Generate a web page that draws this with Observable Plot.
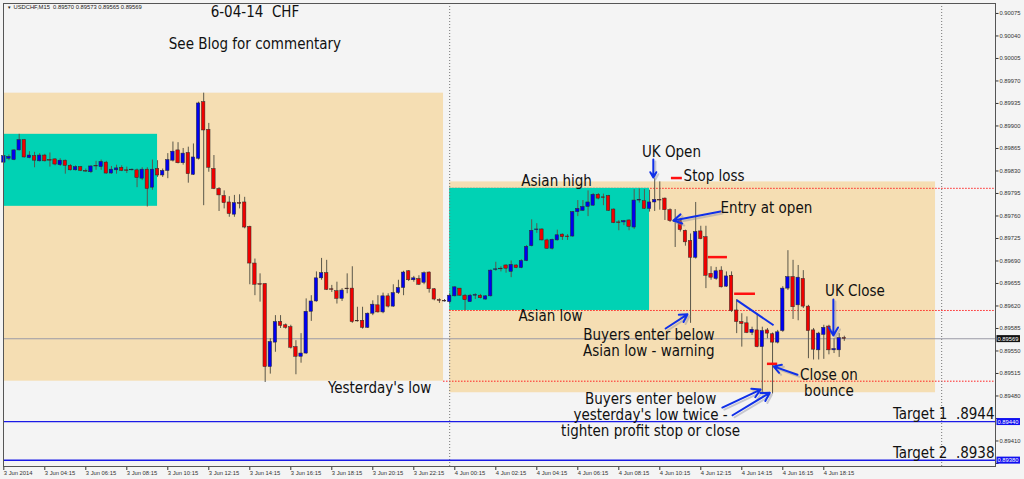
<!DOCTYPE html>
<html><head><meta charset="utf-8">
<script src="https://cdn.jsdelivr.net/npm/d3@7"></script>
<script src="https://cdn.jsdelivr.net/npm/@observablehq/plot@0.6"></script>
<style>
html,body{margin:0;padding:0;background:#f4f4f4;}
svg text{white-space:pre;}
</style></head><body><div id="chart"></div>
<script>
// ---------- data ----------
const symbol = "USDCHF,M15";
const firstBar = "2014-06-03T02:15:00Z";   // time of the first visible M15 candle
const barMinutes = 15;

const open = [
0.89843,0.89849,0.89847,0.89862,0.89878,0.89850,0.89853,0.89845,0.89854,0.89847,
0.89848,0.89839,0.89846,0.89838,0.89831,0.89836,0.89830,0.89828,0.89838,0.89836,
0.89843,0.89826,0.89831,0.89835,0.89831,0.89831,0.89831,0.89818,0.89832,0.89804,
0.89833,0.89823,0.89830,0.89846,0.89862,0.89842,0.89858,0.89824,0.89849,0.89937,
0.89894,0.89833,0.89802,0.89791,0.89781,0.89762,0.89780,0.89781,0.89743,0.89686,
0.89654,0.89654,0.89525,0.89563,0.89595,0.89590,0.89587,0.89556,0.89541,0.89546,
0.89611,0.89627,0.89663,0.89671,0.89646,0.89643,0.89631,0.89647,0.89647,0.89597,
0.89597,0.89586,0.89608,0.89621,0.89610,0.89635,0.89619,0.89640,0.89648,0.89674,
0.89660,0.89662,0.89656,0.89672,0.89646,0.89629,0.89628,0.89626,0.89635,0.89647,
0.89636,0.89626,0.89636,0.89636,0.89630,0.89635,0.89676,0.89678,0.89683,0.89673,
0.89683,0.89679,0.89690,0.89713,0.89738,0.89739,0.89722,0.89709,0.89722,0.89731,
0.89728,0.89728,0.89766,0.89768,0.89774,0.89776,0.89793,0.89789,0.89791,0.89770,
0.89750,0.89750,0.89753,0.89742,0.89784,0.89783,0.89771,0.89781,0.89785,0.89787,
0.89769,0.89751,0.89752,0.89737,0.89721,0.89695,0.89736,0.89727,0.89670,0.89662,
0.89675,0.89650,0.89667,0.89613,0.89595,0.89593,0.89578,0.89582,0.89556,0.89582,
0.89576,0.89563,0.89581,0.89647,0.89665,0.89621,0.89662,0.89619,0.89582,0.89551,
0.89575,0.89588,0.89551,0.89551,0.89570];
const high = [
0.89854,0.89855,0.89863,0.89887,0.89879,0.89860,0.89859,0.89857,0.89856,0.89858,
0.89849,0.89849,0.89847,0.89840,0.89838,0.89837,0.89833,0.89838,0.89845,0.89847,
0.89845,0.89837,0.89839,0.89838,0.89836,0.89833,0.89833,0.89835,0.89835,0.89847,
0.89846,0.89833,0.89857,0.89875,0.89874,0.89865,0.89867,0.89872,0.89937,0.89951,
0.89904,0.89854,0.89804,0.89799,0.89790,0.89792,0.89793,0.89789,0.89744,0.89693,
0.89670,0.89655,0.89569,0.89605,0.89605,0.89592,0.89590,0.89566,0.89577,0.89631,
0.89636,0.89673,0.89694,0.89691,0.89652,0.89657,0.89647,0.89670,0.89681,0.89618,
0.89618,0.89609,0.89628,0.89636,0.89640,0.89639,0.89653,0.89660,0.89674,0.89675,
0.89666,0.89667,0.89673,0.89673,0.89647,0.89631,0.89630,0.89639,0.89650,0.89647,
0.89638,0.89638,0.89639,0.89638,0.89636,0.89676,0.89688,0.89681,0.89684,0.89690,
0.89684,0.89692,0.89714,0.89754,0.89748,0.89740,0.89724,0.89724,0.89738,0.89732,
0.89731,0.89767,0.89784,0.89784,0.89799,0.89795,0.89795,0.89794,0.89792,0.89771,
0.89753,0.89753,0.89754,0.89801,0.89802,0.89801,0.89800,0.89818,0.89813,0.89788,
0.89771,0.89770,0.89756,0.89738,0.89732,0.89781,0.89744,0.89744,0.89681,0.89680,
0.89681,0.89673,0.89673,0.89630,0.89608,0.89603,0.89587,0.89608,0.89587,0.89585,
0.89578,0.89582,0.89650,0.89706,0.89691,0.89683,0.89675,0.89621,0.89585,0.89579,
0.89590,0.89590,0.89569,0.89577,0.89573];
const low = [
0.89842,0.89846,0.89846,0.89861,0.89850,0.89849,0.89835,0.89844,0.89844,0.89836,
0.89838,0.89837,0.89825,0.89830,0.89830,0.89829,0.89828,0.89826,0.89831,0.89831,
0.89825,0.89825,0.89825,0.89829,0.89826,0.89830,0.89804,0.89815,0.89774,0.89800,
0.89820,0.89820,0.89818,0.89844,0.89841,0.89839,0.89811,0.89823,0.89847,0.89776,
0.89828,0.89801,0.89767,0.89771,0.89758,0.89758,0.89771,0.89740,0.89653,0.89636,
0.89626,0.89501,0.89514,0.89548,0.89585,0.89584,0.89553,0.89513,0.89531,0.89545,
0.89596,0.89626,0.89660,0.89644,0.89641,0.89623,0.89627,0.89639,0.89593,0.89595,
0.89584,0.89585,0.89605,0.89609,0.89608,0.89617,0.89618,0.89638,0.89636,0.89658,
0.89657,0.89652,0.89653,0.89640,0.89628,0.89624,0.89626,0.89624,0.89634,0.89635,
0.89613,0.89626,0.89630,0.89631,0.89629,0.89634,0.89674,0.89673,0.89671,0.89664,
0.89678,0.89678,0.89689,0.89712,0.89733,0.89721,0.89708,0.89707,0.89721,0.89722,
0.89722,0.89727,0.89759,0.89767,0.89759,0.89775,0.89785,0.89776,0.89767,0.89748,
0.89737,0.89745,0.89737,0.89739,0.89780,0.89770,0.89766,0.89767,0.89769,0.89753,
0.89750,0.89711,0.89735,0.89713,0.89593,0.89693,0.89723,0.89647,0.89660,0.89660,
0.89648,0.89649,0.89610,0.89577,0.89556,0.89577,0.89574,0.89555,0.89484,0.89569,
0.89483,0.89561,0.89579,0.89644,0.89599,0.89597,0.89616,0.89538,0.89536,0.89536,
0.89537,0.89544,0.89546,0.89540,0.89565];
const close = [
0.89853,0.89852,0.89862,0.89878,0.89851,0.89854,0.89846,0.89854,0.89845,0.89846,
0.89840,0.89846,0.89838,0.89831,0.89836,0.89830,0.89829,0.89837,0.89837,0.89844,
0.89826,0.89832,0.89834,0.89830,0.89830,0.89832,0.89819,0.89832,0.89802,0.89832,
0.89823,0.89830,0.89847,0.89860,0.89842,0.89857,0.89825,0.89851,0.89935,0.89893,
0.89835,0.89802,0.89792,0.89780,0.89763,0.89780,0.89779,0.89742,0.89686,0.89653,
0.89653,0.89525,0.89564,0.89595,0.89589,0.89586,0.89555,0.89541,0.89546,0.89611,
0.89627,0.89663,0.89671,0.89645,0.89645,0.89631,0.89644,0.89646,0.89595,0.89596,
0.89586,0.89608,0.89622,0.89610,0.89635,0.89619,0.89640,0.89648,0.89672,0.89660,
0.89663,0.89653,0.89671,0.89646,0.89630,0.89628,0.89627,0.89636,0.89649,0.89636,
0.89629,0.89636,0.89637,0.89632,0.89635,0.89675,0.89677,0.89677,0.89678,0.89684,
0.89679,0.89690,0.89712,0.89737,0.89739,0.89722,0.89709,0.89723,0.89730,0.89727,
0.89727,0.89766,0.89771,0.89774,0.89781,0.89793,0.89787,0.89788,0.89768,0.89749,
0.89749,0.89752,0.89743,0.89784,0.89785,0.89771,0.89781,0.89785,0.89784,0.89769,
0.89752,0.89753,0.89738,0.89719,0.89695,0.89735,0.89724,0.89667,0.89664,0.89674,
0.89649,0.89666,0.89612,0.89595,0.89592,0.89578,0.89583,0.89556,0.89581,0.89577,
0.89563,0.89579,0.89647,0.89665,0.89618,0.89664,0.89619,0.89581,0.89552,0.89577,
0.89586,0.89551,0.89553,0.89570,0.89569];

// shaded zones (day range = wheat, Asian session range = turquoise)
const dayRanges = [
  {from:"2014-06-03T00:00Z", to:"2014-06-03T23:42Z", low:0.89503, high:0.89951},
  {from:"2014-06-04T00:00Z", to:"2014-06-04T23:42Z", low:0.89485, high:0.89813}];
const asianRanges = [
  {from:"2014-06-03T00:00Z", to:"2014-06-03T09:45Z", low:0.89775, high:0.89887},
  {from:"2014-06-04T00:00Z", to:"2014-06-04T09:45Z", low:0.89613, high:0.89803}];
const dottedLevels = [
  {from:"2014-06-04T00:00Z", price:0.89803},
  {from:"2014-06-04T00:00Z", price:0.89613},
  {from:"2014-06-03T23:42Z", price:0.89503}];
const separators = ["2014-06-04T00:00Z", "2014-06-05T00:00Z"];
const targets = [0.89440, 0.89380];

const yTicks = [0.89375,0.89410,0.89445,0.89480,0.89515,0.89550,0.89585,0.89620,0.89655,0.89690,
  0.89725,0.89760,0.89795,0.89830,0.89865,0.89900,0.89935,0.89970,0.90005,0.90040,0.90075];
const xTickTimes = ["2014-06-03T02:15Z","2014-06-03T04:15Z","2014-06-03T06:15Z","2014-06-03T08:15Z",
  "2014-06-03T10:15Z","2014-06-03T12:15Z","2014-06-03T14:15Z","2014-06-03T16:15Z","2014-06-03T18:15Z",
  "2014-06-03T20:15Z","2014-06-03T22:15Z","2014-06-04T00:15Z","2014-06-04T02:15Z","2014-06-04T04:15Z",
  "2014-06-04T06:15Z","2014-06-04T08:15Z","2014-06-04T10:15Z","2014-06-04T12:15Z","2014-06-04T14:15Z",
  "2014-06-04T16:15Z","2014-06-04T18:15Z"];
const xTickLabels = ["3 Jun 2014","3 Jun 04:15","3 Jun 06:15","3 Jun 08:15","3 Jun 10:15","3 Jun 12:15",
  "3 Jun 14:15","3 Jun 16:15","3 Jun 18:15","3 Jun 20:15","3 Jun 22:15","4 Jun 00:15","4 Jun 02:15",
  "4 Jun 04:15","4 Jun 06:15","4 Jun 08:15","4 Jun 10:15","4 Jun 12:15","4 Jun 14:15","4 Jun 16:15",
  "4 Jun 18:15"];

const notes = [
  {t:"2014-06-03T14:30Z", p:0.90077, s:"6-04-14  CHF"},
  {t:"2014-06-03T14:30Z", p:0.90028, s:"See Blog for commentary"},
  {t:"2014-06-04T05:13Z", p:0.89814, s:"Asian high"},
  {t:"2014-06-04T04:55Z", p:0.89604, s:"Asian low"},
  {t:"2014-06-04T10:49Z", p:0.89859, s:"UK Open"},
  {t:"2014-06-04T12:54Z", p:0.89823, s:"Stop loss"},
  {t:"2014-06-04T15:27Z", p:0.89772, s:"Entry at open"},
  {t:"2014-06-04T19:46Z", p:0.89643, s:"UK Close"},
  {t:"2014-06-04T09:43Z", p:0.89562, s:"Buyers enter below\nAsian low - warning"},
  {t:"2014-06-04T18:30Z", p:0.89501, s:"Close on\nbounce"},
  {t:"2014-06-04T09:48Z", p:0.89451, s:"Buyers enter below\nyesterday's low twice -\ntighten profit stop or close"},
  {t:"2014-06-03T20:35Z", p:0.89493, s:"Yesterday's low"}];
const targetNotes = [{p:0.89451, s:"Target 1  .8944"}, {p:0.89391, s:"Target 2  .8938"}];

const arrows = [
  {t1:"2014-06-04T09:56Z", p1:0.89848, t2:"2014-06-04T09:56Z", p2:0.89820},
  {t1:"2014-06-04T13:13Z", p1:0.89767, t2:"2014-06-04T10:55Z", p2:0.89753},
  {t1:"2014-06-04T10:32Z", p1:0.89585, t2:"2014-06-04T11:36Z", p2:0.89607},
  {t1:"2014-06-04T16:58Z", p1:0.89513, t2:"2014-06-04T15:48Z", p2:0.89526},
  {t1:"2014-06-04T18:43Z", p1:0.89630, t2:"2014-06-04T18:43Z", p2:0.89574},
  {t1:"2014-06-04T13:18Z", p1:0.89462, t2:"2014-06-04T15:10Z", p2:0.89490},
  {t1:"2014-06-04T13:48Z", p1:0.89450, t2:"2014-06-04T15:37Z", p2:0.89485}];
const trendLines = [{t1:"2014-06-04T14:00Z", p1:0.89629, t2:"2014-06-04T15:48Z", p2:0.89590}];
const redMarks = [
  {t1:"2014-06-04T10:49Z", t2:"2014-06-04T11:21Z", p:0.89819},
  {t1:"2014-06-04T12:37Z", t2:"2014-06-04T13:33Z", p:0.89696},
  {t1:"2014-06-04T13:54Z", t2:"2014-06-04T14:55Z", p:0.89639},
  {t1:"2014-06-04T15:30Z", t2:"2014-06-04T16:00Z", p:0.89530}];

// ---------- build ----------
const D = s => new Date(s);
const t0 = Date.parse(firstBar);
const bars = open.map((o, i) => ({t: new Date(t0 + i * barMinutes * 60000), o, h: high[i], l: low[i], c: close[i]}));
const last = bars[bars.length - 1];
const half = 5 * 60000;
const xDomain = [D("2014-06-03T02:14:07Z"), D("2014-06-05T02:37:31Z")];
const labelOf = new Map(xTickTimes.map((s, i) => [+D(s), xTickLabels[i]]));
const bigFont = "DejaVu Sans Condensed, DejaVu Sans, sans-serif";
const smallFont = "Liberation Sans, Arial, sans-serif";
const BLUE = "#1030e8";
const boxPrices = [last.c, ...targets];
// scale labels hidden behind the price boxes, as in the terminal
const yLabel = d => boxPrices.some(p => Math.abs(p - d) < 0.0001) ? "" : d.toFixed(5);
const BLACK_BOX_TEXT = "#fefefe", BLUE_BOX_TEXT = "#fffffe";

const chart = Plot.plot({
  width: 1024, height: 479,
  marginTop: 3, marginRight: 29, marginBottom: 13, marginLeft: 3,
  style: {background: "#f4f4f4", fontFamily: smallFont, overflow: "visible"},
  x: {type: "utc", domain: xDomain},
  y: {domain: [0.893703, 0.900905]},
  marks: [
    Plot.rect(dayRanges, {x1: d => D(d.from), x2: d => D(d.to), y1: "low", y2: "high", fill: "#f5deb3", clip: true}),
    Plot.ruleY(dottedLevels, {y: "price", x1: d => D(d.from), x2: () => xDomain[1], stroke: "#ff2020", strokeWidth: 1, strokeDasharray: "1.5,1.5"}),
    Plot.rect(asianRanges, {x1: d => D(d.from), x2: d => D(d.to), y1: "low", y2: "high", fill: "#00d2b4", clip: true}),
    Plot.ruleX(separators, {x: d => D(d), stroke: "#777", strokeWidth: 1, strokeDasharray: "1,2"}),
    Plot.ruleY([last.c], {stroke: "#9a9aa6", strokeWidth: 1}),
    Plot.ruleY(targets, {stroke: "#1a1ae6", strokeWidth: 1.3}),
    // candles
    Plot.ruleX(bars, {x: "t", y1: "l", y2: "h", stroke: "#5a574a", strokeWidth: 1}),
    Plot.rect(bars, {x1: d => new Date(+d.t - half), x2: d => new Date(+d.t + half), y1: "o", y2: "c",
      fill: d => d.c >= d.o ? "#0000f0" : "#f00000", stroke: "#2a2a2a", strokeWidth: 0.5}),
    // annotations
    Plot.ruleY(redMarks, {y: "p", x1: d => D(d.t1), x2: d => D(d.t2), stroke: "#ff1010", strokeWidth: 2.5}),
    Plot.link(trendLines, {x1: d => D(d.t1), y1: "p1", x2: d => D(d.t2), y2: "p2", stroke: BLUE, strokeWidth: 2}),
    Plot.arrow(arrows, {x1: d => D(d.t1), y1: "p1", x2: d => D(d.t2), y2: "p2", stroke: "#9090a0", strokeOpacity: 0.45, strokeWidth: 2, headLength: 7, dx: 2, dy: 2}),
    Plot.arrow(arrows, {x1: d => D(d.t1), y1: "p1", x2: d => D(d.t2), y2: "p2", stroke: BLUE, strokeWidth: 2, headLength: 7}),
    Plot.text(notes, {x: d => D(d.t), y: "p", text: "s", fontSize: 15, fontFamily: bigFont, fill: "#111", lineHeight: 1.07}),
    Plot.text(targetNotes, {y: "p", text: "s", frameAnchor: "right", textAnchor: "end", dx: -1, fontSize: 15, fontFamily: bigFont, fill: "#111"}),
    Plot.text([`${symbol}  ${last.o.toFixed(5)} ${last.h.toFixed(5)} ${last.l.toFixed(5)} ${last.c.toFixed(5)}`],
      {frameAnchor: "top-left", dx: 10, dy: 4, textAnchor: "start", lineAnchor: "middle", fontSize: 5.8, fill: "#222"}),
    Plot.text(["\u25BC"], {frameAnchor: "top-left", dx: 3.5, dy: 4, lineAnchor: "middle", fontSize: 4.5, fill: "#222"}),
    // axes
    Plot.axisY(yTicks, {anchor: "right", tickSize: 2.5, tickPadding: 1.5, tickFormat: yLabel, fontSize: 5.8, color: "#333", label: null}),
    Plot.axisX(xTickTimes.map(D), {anchor: "bottom", tickSize: 4, tickPadding: 0, tickFormat: d => labelOf.get(+d), textAnchor: "start", fontSize: 5.8, color: "#333", label: null}),
    Plot.frame({stroke: "#555", strokeWidth: 1}),
    // price boxes on the scale
    Plot.text([last.c], {y: d => d, text: d => d.toFixed(5), frameAnchor: "right", dx: 2, textAnchor: "start", fontSize: 5.8, fill: BLACK_BOX_TEXT}),
    Plot.text(targets, {y: d => d, text: d => d.toFixed(5), frameAnchor: "right", dx: 2, textAnchor: "start", fontSize: 5.8, fill: BLUE_BOX_TEXT})
  ]
});

document.getElementById("chart").append(chart);
const boxStyles = [[BLACK_BOX_TEXT, "#111"], [BLUE_BOX_TEXT, "#1010f0"]];
chart.querySelectorAll("g").forEach(g => {
  const f = (g.getAttribute("fill") || "").toLowerCase();
  const st = boxStyles.find(b => b[0] === f);
  if (!st) return;
  g.querySelectorAll("text").forEach(t => {
    const b = t.getBBox();
    const r = document.createElementNS("http://www.w3.org/2000/svg", "rect");
    r.setAttribute("x", b.x - 1); r.setAttribute("y", b.y - 0.5);
    r.setAttribute("width", b.width + 2.5); r.setAttribute("height", b.height + 1);
    r.setAttribute("fill", st[1]);
    if (t.getAttribute("transform")) r.setAttribute("transform", t.getAttribute("transform"));
    t.parentNode.insertBefore(r, t);
  });
});
</script>
</body></html>
